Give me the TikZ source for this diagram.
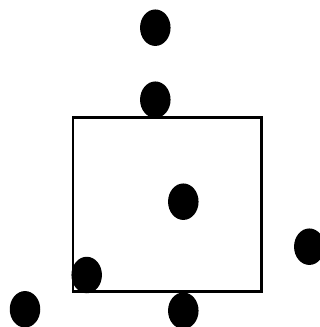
\documentclass[tikz,border=0pt]{standalone}
\usepackage{tikz}
\usetikzlibrary{shapes.geometric}

\begin{document}
\begin{tikzpicture}[
  x=1pt, y=-1pt,
  dot/.style={ellipse, fill=black, inner sep=0pt,
    minimum width=30.5pt, minimum height=36.5pt},
  frame/.style={draw=black, line width=2.6pt, inner sep=0pt,
    minimum width=188.7pt, minimum height=173.6pt}
]
\clip (0,0) rectangle (320,327);
\node[frame] (sq) at (167.3,204.5) {};
% points
\node[dot] (top)    at (155.3, 27.7) {};
\node[dot] (upper)  at (155.3, 99.7) {};
\node[dot] (centre) at (183.3,201.7) {};
\node[dot] (right)  at (309.3,246.7) {};
\node[dot] (corner) at ( 86.7,275.0) {};
\node[dot] (left)   at ( 25.0,309.3) {};
\node[dot] (bottom) at (183.3,310.7) {};
\end{tikzpicture}
\end{document}
